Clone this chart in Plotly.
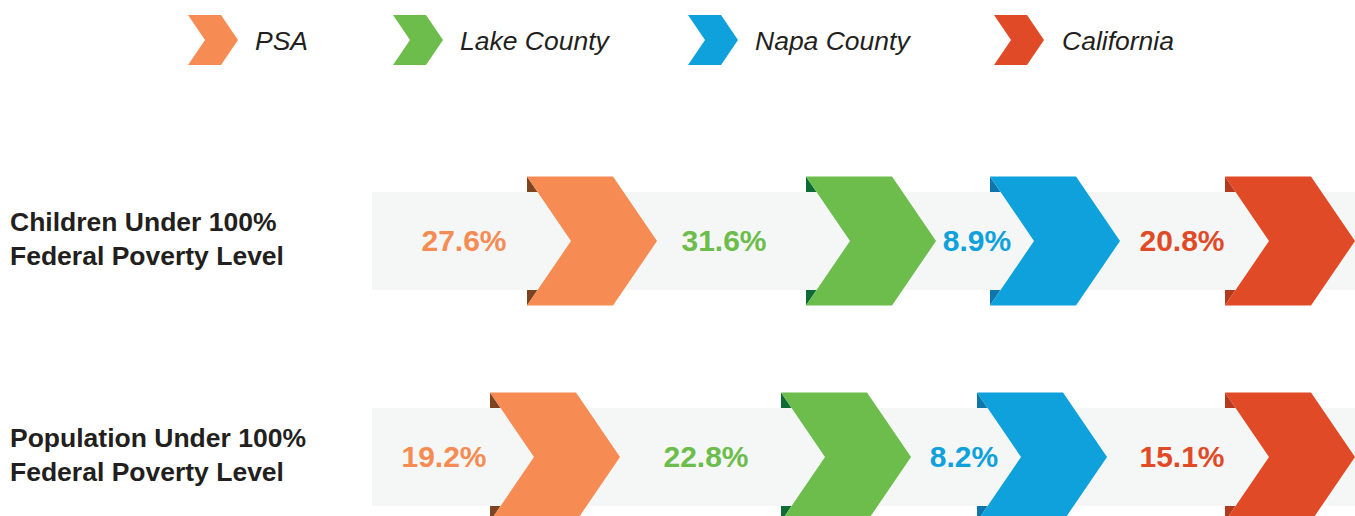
import plotly.graph_objects as go

# ---- data ----
series = ["PSA", "Lake County", "Napa County", "California"]
rows = ["Children Under 100%<br>Federal Poverty Level",
        "Population Under 100%<br>Federal Poverty Level"]
children_vals = [27.6, 31.6, 8.9, 20.8]
population_vals = [19.2, 22.8, 8.2, 15.1]
values = [children_vals, population_vals]

# ---- styles / layout positions (pixel-like layout units) ----
colors = ["#f68b53", "#6cbd4b", "#0ea1db", "#e14a26"]
folds = ["#7d4422", "#0f6b35", "#0f76ab", "#b23a1e"]
band_color = "#f5f7f6"
txt_color = "#231f20"
FONT = "Liberation Sans, Arial, Helvetica, sans-serif"

W, H = 1355, 516
row_center = [241, 457]
band_left, band_right, band_half = 372, 1360, 49
chev_left = [[527, 806, 990, 1225], [490, 781, 977, 1225]]
label_x = [[464, 724, 977, 1182], [444, 706, 964, 1182]]
CW, CH, CD = 130, 129, 44
leg_left = [188, 393, 688, 994]
leg_text_x = [253, 458, 753, 1060]
leg_cy, LW, LH, LD = 40, 50, 50, 17


def chevron(L, cy, w, h, d):
    T = cy - h / 2
    xs = [L, L + w - d, L + w, L + w - d, L, L + d, L]
    ys = [T, T, cy, T + h, T + h, cy, T]
    return xs, ys


fig = go.Figure()

# gray bands
fig.add_trace(go.Bar(
    y=row_center, x=[band_right - band_left] * len(row_center), base=band_left,
    orientation="h", width=2 * band_half, marker=dict(color=band_color, line=dict(width=0)),
    hoverinfo="skip", showlegend=False))

for r, cy in enumerate(row_center):
    for i in range(len(series)):
        L = chev_left[r][i]
        T = cy - CH / 2
        dy = (cy - band_half) - T
        dx = CD * dy / (CH / 2)
        # folds
        fig.add_trace(go.Scatter(
            x=[L, L + dx, L, L], y=[T, T + dy, T + dy, T], mode="lines", fill="toself",
            fillcolor=folds[i], line=dict(width=0), hoverinfo="skip", showlegend=False))
        fig.add_trace(go.Scatter(
            x=[L, L + dx, L, L], y=[cy + band_half, cy + band_half, T + CH, cy + band_half],
            mode="lines", fill="toself", fillcolor=folds[i], line=dict(width=0),
            hoverinfo="skip", showlegend=False))
        xs, ys = chevron(L, cy, CW, CH, CD)
        fig.add_trace(go.Scatter(
            x=xs, y=ys, mode="lines", fill="toself", fillcolor=colors[i],
            line=dict(width=0), hoverinfo="skip", showlegend=False))
    # value labels
    fig.add_trace(go.Scatter(
        x=label_x[r], y=[cy + 2] * len(series), mode="text",
        text=[f"{v:.1f}%" for v in values[r]], textposition="middle center",
        textfont=dict(family=FONT, size=30, color=colors, weight="bold"),
        hoverinfo="skip", showlegend=False))
    fig.add_annotation(
        x=8, y=cy - 2, xref="x", yref="y", text=f"<b>{rows[r]}</b>", showarrow=False,
        xanchor="left", yanchor="middle", align="left",
        font=dict(family=FONT, size=26.5, color=txt_color))

# legend
for i, name in enumerate(series):
    xs, ys = chevron(leg_left[i], leg_cy, LW, LH, LD)
    fig.add_trace(go.Scatter(
        x=xs, y=ys, mode="lines", fill="toself", fillcolor=colors[i],
        line=dict(width=0), hoverinfo="skip", showlegend=False))
    fig.add_annotation(
        x=leg_text_x[i], y=leg_cy + 1, xref="x", yref="y", text=f"<i>{name}</i>",
        showarrow=False, xanchor="left", yanchor="middle",
        font=dict(family=FONT, size=26.5, color=txt_color))

fig.update_layout(
    width=W, height=H, margin=dict(l=0, r=0, t=0, b=0),
    paper_bgcolor="white", plot_bgcolor="white",
    xaxis=dict(range=[0, W], visible=False, fixedrange=True),
    yaxis=dict(range=[H, 0], visible=False, fixedrange=True),
    showlegend=False)

fig.write_html(
    "out.html",
    config={"displayModeBar": False, "staticPlot": True},
    post_script="document.body.style.margin='0';document.body.style.overflow='hidden';")
